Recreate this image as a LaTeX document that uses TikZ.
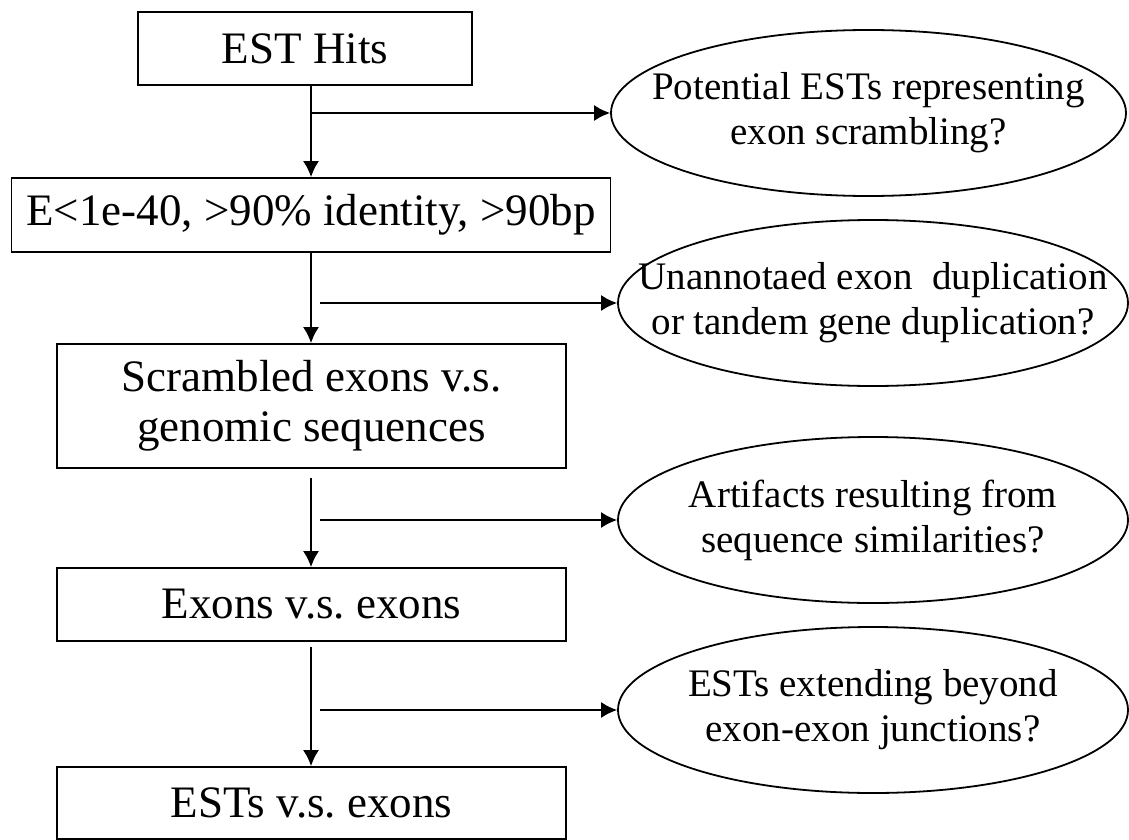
\documentclass[tikz,border=0pt]{standalone}
\usepackage{fontspec}
\setmainfont{Liberation Serif}
\frenchspacing
\usetikzlibrary{shapes.geometric,arrows.meta}
\tikzset{
  flowbox/.style={draw,line width=0.9pt,rectangle,inner sep=0pt,align=center,font=\fontsize{22.5}{25}\selectfont},
  query/.style={draw,line width=0.9pt,ellipse,inner xsep=-45pt,inner ysep=0pt,minimum width=255pt,minimum height=83pt,align=center,font=\fontsize{19.5}{22.5}\selectfont},
  flow/.style={line width=0.9pt,-{Latex[length=8pt,width=8pt]}}
}
\begin{document}
\begin{tikzpicture}[x=0.5pt,y=-0.5pt]
  \useasboundingbox (0,0) rectangle (1129,840);
  % main steps
  \node[flowbox,minimum width=167pt,minimum height=36.5pt] (hits) at (305,48.5) {EST Hits};
  \node[flowbox,minimum width=299.5pt,minimum height=37pt] (filter) at (311,215) {E<1e-40, >90\% identity, >90bp};
  \node[flowbox,minimum width=254.5pt,minimum height=62pt] (genomic) at (311.5,406) {Scrambled exons v.s.\\genomic sequences};
  \node[flowbox,minimum width=254.5pt,minimum height=36.5pt] (exons) at (311.5,604.5) {Exons v.s. exons};
  \node[flowbox,minimum width=254.5pt,minimum height=36pt] (ests) at (311.5,803) {ESTs v.s. exons};
  % questions
  \node[query,minimum width=257.5pt] (q1) at (868.5,113) {Potential ESTs representing\\exon scrambling?};
  \node[query] (q2) at (873,303) {Unannotaed exon \ duplication\\or tandem gene duplication?};
  \node[query] (q3) at (873,520) {Artifacts resulting from\\sequence similarities?};
  \node[query] (q4) at (873,710) {ESTs extending beyond\\exon-exon junctions?};
  \coordinate (s1) at (311,113);
  \coordinate (s2) at (320,303);
  \coordinate (s3) at (320,520);
  \coordinate (s4) at (320,710);
  % arrows
  \draw[flow] (hits.south -| filter.north) -- (filter.north);
  \draw[flow] (filter.south) -- (genomic.north -| filter.south);
  \draw[flow,shorten <=4.5pt] (genomic.south -| filter.south) -- (exons.north -| filter.south);
  \draw[flow,shorten <=2.5pt] (exons.south -| filter.south) -- (ests.north -| filter.south);
  \draw[flow] (s1) -- (q1.west);
  \draw[flow] (s2) -- (q2.west);
  \draw[flow] (s3) -- (q3.west);
  \draw[flow] (s4) -- (q4.west);
\end{tikzpicture}
\end{document}
